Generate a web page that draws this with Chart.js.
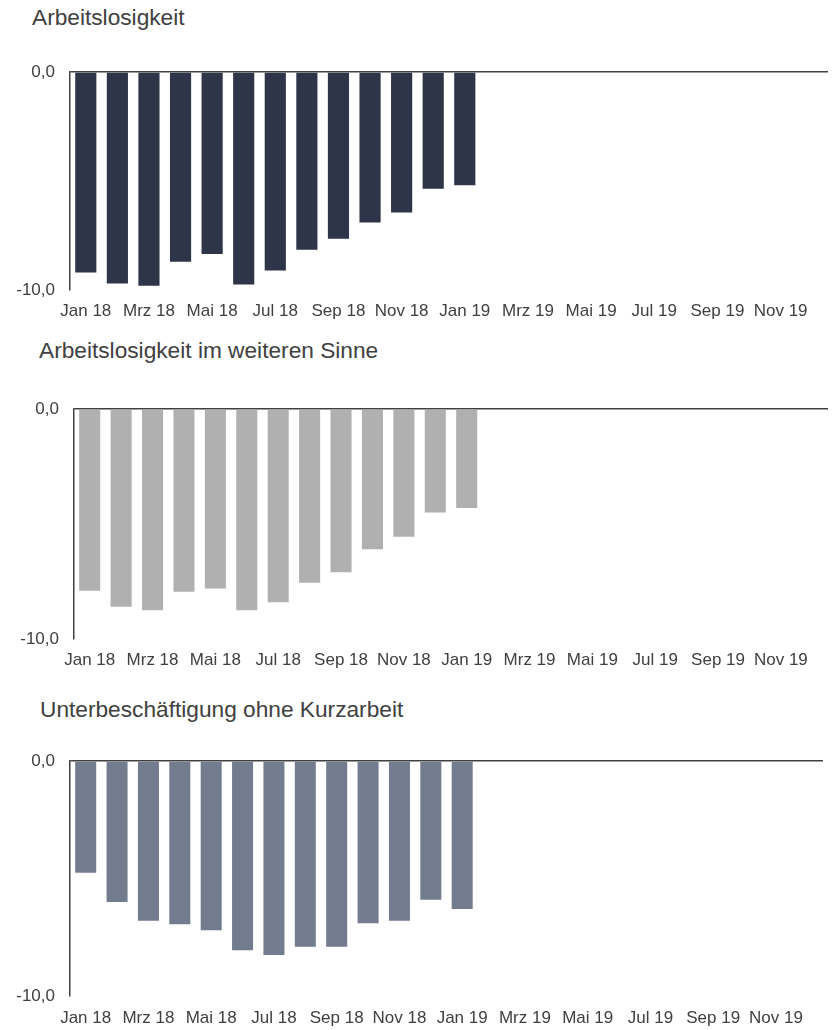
<!DOCTYPE html>
<html>
<head>
<meta charset="utf-8">
<script src="https://cdn.jsdelivr.net/npm/chart.js@4.4.1/dist/chart.umd.min.js"></script>
<style>
  body { margin: 0; background: #fff; font-family: 'Liberation Sans', Arial, sans-serif; }
  .box { position: absolute; left: 0; width: 836px; }
  .title { position: absolute; font-size: 22.7px; line-height: 22.7px; color: #404040; white-space: nowrap; }
</style>
</head>
<body>
<div class="title" id="t1"></div>
<div class="title" id="t2"></div>
<div class="title" id="t3"></div>
<div class="box" id="b1"><canvas id="c1"></canvas></div>
<div class="box" id="b2"><canvas id="c2"></canvas></div>
<div class="box" id="b3"><canvas id="c3"></canvas></div>
<script>
const months = ["Jan 18", "Feb 18", "Mrz 18", "Apr 18", "Mai 18", "Jun 18", "Jul 18", "Aug 18",
    "Sep 18", "Okt 18", "Nov 18", "Dez 18", "Jan 19", "Feb 19", "Mrz 19", "Apr 19",
    "Mai 19", "Jun 19", "Jul 19", "Aug 19", "Sep 19", "Okt 19", "Nov 19", "Dez 19"];

const arbeitslosigkeit = [-9.2, -9.7, -9.8, -8.7, -8.35, -9.75, -9.1, -8.15, -7.65, -6.9, -6.45, -5.35, -5.2];
const arbeitslosigkeitWeit = [-7.9, -8.6, -8.75, -7.95, -7.8, -8.75, -8.4, -7.55, -7.1, -6.1, -5.55, -4.5, -4.3];
const unterbeschaeftigung = [-4.75, -6.0, -6.8, -6.95, -7.2, -8.05, -8.25, -7.9, -7.9, -6.9, -6.8, -5.9, -6.3];

const yTicks = [-10, 0];

const FONT = "'Liberation Sans', Arial, sans-serif";
const TEXT = "#404040";
const TOP_PAD = 26;
const X_AXIS_H = 36;

function makeChart(n, title, values, color, o) {
    const t = document.getElementById("t" + n);
    t.textContent = title;
    t.style.left = o.titleX + "px";
    t.style.top = o.titleTop + "px";

    const box = document.getElementById("b" + n);
    const top = o.zeroY - TOP_PAD;
    box.style.top = top + "px";
    box.style.height = (o.bottomY + X_AXIS_H - top) + "px";

    const ctx = document.getElementById("c" + n).getContext("2d");
    return new Chart(ctx, {
        type: "bar",
        data: {
            labels: months,
            datasets: [{
                data: values,
                backgroundColor: color,
                categoryPercentage: 1,
                barPercentage: 0.67
            }]
        },
        options: {
            responsive: true,
            maintainAspectRatio: false,
            animation: false,
            layout: { padding: { left: 0, right: 836 - o.rightX, top: TOP_PAD, bottom: 0 } },
            plugins: {
                legend: { display: false },
                tooltip: { enabled: false }
            },
            scales: {
                x: {
                    afterFit: scale => { scale.height = X_AXIS_H; },
                    grid: { display: false, drawTicks: false },
                    border: { display: false },
                    ticks: {
                        autoSkip: false,
                        maxRotation: 0,
                        padding: o.xPad,
                        color: TEXT,
                        font: { family: FONT, size: 17 },
                        callback: (v, i) => (i % 2 === 0 ? months[i] : "")
                    }
                },
                y: {
                    min: yTicks[0],
                    max: yTicks[1],
                    afterFit: scale => { scale.width = o.axisX; },
                    afterBuildTicks: scale => { scale.ticks = yTicks.map(v => ({ value: v })); },
                    grid: {
                        drawTicks: false,
                        color: c => (c.tick && c.tick.value === 0 ? "#404040" : "rgba(0,0,0,0)"),
                        lineWidth: 1.5
                    },
                    border: { display: true, color: "#404040", width: 1.5 },
                    ticks: {
                        padding: 15,
                        color: TEXT,
                        font: { family: FONT, size: 17 },
                        callback: v => v.toFixed(1).replace(".", ",")
                    }
                }
            }
        }
    });
}

makeChart(1, "Arbeitslosigkeit", arbeitslosigkeit, "#2e3549",
    { titleX: 32, titleTop: 5.5, zeroY: 72, bottomY: 290, axisX: 70, rightX: 828, xPad: 11 });
makeChart(2, "Arbeitslosigkeit im weiteren Sinne", arbeitslosigkeitWeit, "#b0b0b0",
    { titleX: 39, titleTop: 338.5, zeroY: 409, bottomY: 639, axisX: 74, rightX: 828, xPad: 11 });
makeChart(3, "Unterbeschäftigung ohne Kurzarbeit", unterbeschaeftigung, "#737b8e",
    { titleX: 40, titleTop: 697.5, zeroY: 761, bottomY: 996, axisX: 70, rightX: 823, xPad: 12 });
</script>
</body>
</html>
